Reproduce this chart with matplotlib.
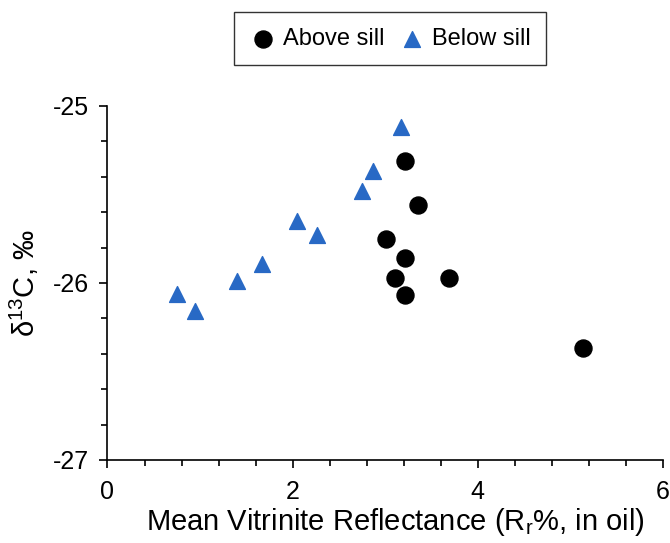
import numpy as np
import matplotlib.pyplot as plt
from matplotlib.ticker import MultipleLocator

plt.rcParams['font.family'] = ['Liberation Sans', 'DejaVu Sans']
plt.rcParams['mathtext.fontset'] = 'custom'
plt.rcParams['mathtext.rm'] = 'Liberation Sans'
plt.rcParams['mathtext.it'] = 'Liberation Sans'
plt.rcParams['axes.unicode_minus'] = False

# Above sill samples
above_ro = [3.21, 3.35, 3.01, 3.21, 3.11, 3.69, 3.21, 5.14]
above_d13c = [-25.31, -25.56, -25.75, -25.86, -25.97, -25.97, -26.07, -26.37]

# Below sill samples
below_ro = [0.75, 0.95, 1.40, 1.67, 2.05, 2.26, 2.75, 2.87, 3.17]
below_d13c = [-26.06, -26.16, -25.99, -25.89, -25.65, -25.73, -25.48, -25.37, -25.12]

fig = plt.figure(figsize=(6.7, 5.43), dpi=100)
ax = fig.add_axes([0.1604, 0.1529, 0.8292, 0.6519])

ax.scatter(above_ro, above_d13c, s=150, marker='o', color='black',
           label='Above sill', clip_on=False, zorder=3)
ax.scatter(below_ro, below_d13c, s=130, marker='^', color='#2869C5',
           label='Below sill', clip_on=False, zorder=3)

ax.set_xlim(0, 6)
ax.set_ylim(-27, -25)
ax.xaxis.set_major_locator(MultipleLocator(2))
ax.xaxis.set_minor_locator(MultipleLocator(0.4))
ax.yaxis.set_major_locator(MultipleLocator(1))
ax.yaxis.set_minor_locator(MultipleLocator(0.2))

for s in ['top', 'right']:
    ax.spines[s].set_visible(False)
for s in ['left', 'bottom']:
    ax.spines[s].set_linewidth(1.2)

ax.tick_params(which='major', direction='out', length=5.5, width=1.2,
               labelsize=18, pad=9)
ax.tick_params(which='minor', direction='out', length=4, width=1.2)
ax.tick_params(axis='y', which='major', pad=8)

ax.set_xlabel('Mean Vitrinite Reflectance (R$_{\\mathrm{r}}$%, in oil)',
              fontsize=21)
ax.xaxis.set_label_coords(0.518, -0.13)
ax.set_ylabel('δ$^{\\mathrm{13}}$C, ‰', fontsize=21)
ax.yaxis.set_label_coords(-0.12, 0.5)

leg = fig.legend(loc='center', bbox_to_anchor=(0.582, 0.9286), ncol=2,
                 fontsize=17, frameon=True, fancybox=False,
                 handletextpad=0.25, columnspacing=0.55, borderpad=0.65,
                 handlelength=1.2)
leg.get_frame().set_edgecolor('black')
leg.get_frame().set_linewidth(1.0)

fig.savefig('out.png', dpi=100)
